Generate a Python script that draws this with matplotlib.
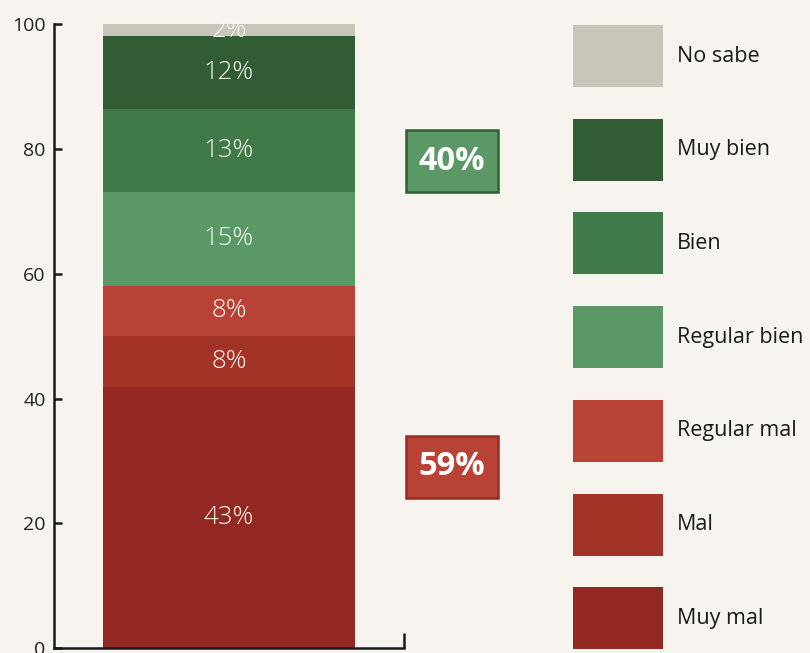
import matplotlib
matplotlib.use("Agg")
import matplotlib.pyplot as plt
from matplotlib.patches import Rectangle
import numpy as np

plt.rcParams['font.family'] = ['Open Sans', 'DejaVu Sans']

# datos (de abajo hacia arriba)
categorias = ["Muy mal", "Mal", "Regular mal", "Regular bien", "Bien", "Muy bien", "No sabe"]
valores = [41.8, 8.3, 8.0, 15.0, 13.3, 11.7, 2.0]
etiquetas = ["43%", "8%", "8%", "15%", "13%", "12%", "2%"]
colores = ["#932822", "#a33326", "#b84235", "#5a9966", "#407a48", "#325c34", "#c9c5ba"]

# totales de los grupos
grupo_mal = ["Muy mal", "Mal", "Regular mal"]
grupo_bien = ["Regular bien", "Bien", "Muy bien"]
total_mal = "59%"
total_bien = "40%"

fondo = "#f7f4ef"

fig = plt.figure(figsize=(8.1, 6.53), dpi=100, facecolor=fondo)
ax = fig.add_axes([54 / 810, 5 / 653, 350 / 810, 623.5 / 653])
ax.set_facecolor(fondo)

base = np.concatenate([[0], np.cumsum(valores)[:-1]])
ax.bar(0.5, valores, width=0.72, bottom=base, color=colores, linewidth=0)

for b, v, t in zip(base, valores, etiquetas):
    ax.text(0.5, b + v / 2, t, ha='center', va='center', fontsize=18.5,
            color='#faf8f4', fontweight='light')

ax.set_xlim(0, 1)
ax.set_ylim(0, 100)
ax.set_yticks([0, 20, 40, 60, 80, 100])
ax.set_xticks([1])
ax.set_xticklabels([])
ax.tick_params(axis='y', direction='in', length=6, width=1.8, labelsize=14,
               labelcolor='#222222', color='#1a1a1a', pad=6)
ax.tick_params(axis='x', direction='in', length=11, width=1.8, color='#1a1a1a')
for s in ['top', 'right']:
    ax.spines[s].set_visible(False)
for s in ['left', 'bottom']:
    ax.spines[s].set_linewidth(1.8)
    ax.spines[s].set_color('#1a1a1a')


# cajas con los totales
def caja(grupo, texto, relleno, borde):
    idx = [categorias.index(c) for c in grupo]
    y0 = base[min(idx)]
    y1 = base[max(idx)] + valores[max(idx)]
    yc = (y0 + y1) / 2
    w, h = 92 / 350, 62 / 6.235
    xc = (452 - 54) / 350
    ax.add_patch(Rectangle((xc - w / 2, yc - h / 2), w, h, facecolor=relleno,
                           edgecolor=borde, linewidth=1.8, clip_on=False))
    ax.text(xc, yc, texto, ha='center', va='center', fontsize=23.5,
            fontweight='bold', color='white', clip_on=False)


caja(grupo_bien, total_bien, "#5a9966", "#2f5e33")
caja(grupo_mal, total_mal, "#b84235", "#962b22")

# leyenda manual (de arriba hacia abajo)
lax = fig.add_axes([0, 0, 1, 1])
lax.set_xlim(0, 810)
lax.set_ylim(653, 0)
lax.axis('off')
for i, (c, col) in enumerate(zip(categorias[::-1], colores[::-1])):
    top = 25 + i * 93.7
    lax.add_patch(Rectangle((573, top), 90, 62, facecolor=col, edgecolor='none'))
    lax.text(677, top + 31, c, ha='left', va='center', fontsize=15.5, color='#1a1a1a')

fig.savefig("out.png", dpi=100, facecolor=fondo)
